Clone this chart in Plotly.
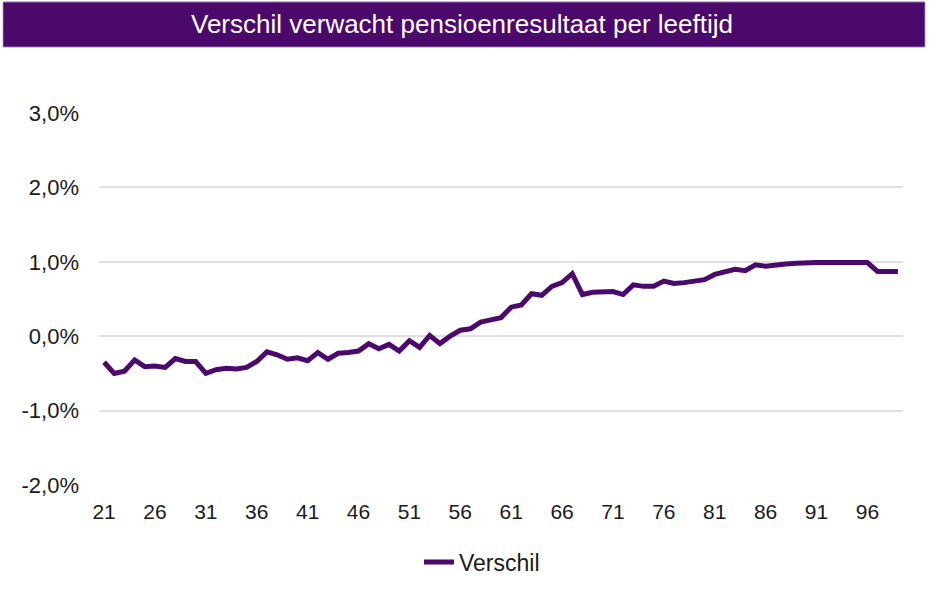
import plotly.graph_objects as go

# leeftijden 21 t/m 99
leeftijden = [str(a) for a in range(21, 100)]

# verschil verwacht pensioenresultaat (in %)
verschil = [
    -0.35, -0.50, -0.47, -0.32, -0.41, -0.40, -0.42, -0.30, -0.34, -0.34,   # 21-30
    -0.50, -0.45, -0.43, -0.44, -0.42, -0.34, -0.21, -0.25, -0.31, -0.29,   # 31-40
    -0.33, -0.22, -0.31, -0.23, -0.22, -0.20, -0.10, -0.17, -0.11, -0.20,   # 41-50
    -0.06, -0.15, 0.01, -0.10, 0.00, 0.08, 0.10, 0.19, 0.22, 0.25,          # 51-60
    0.39, 0.42, 0.57, 0.55, 0.67, 0.72, 0.84, 0.56, 0.59, 0.59,             # 61-70
    0.60, 0.56, 0.69, 0.67, 0.67, 0.74, 0.71, 0.72, 0.74, 0.76,             # 71-80
    0.83, 0.87, 0.90, 0.88, 0.96, 0.94, 0.96, 0.97, 0.98, 0.99,             # 81-90
    0.99, 0.99, 0.99, 0.99, 0.99, 0.99, 0.87, 0.87, 0.87,                   # 91-99
]

x_ticks = leeftijden[::5]
y_ticks = [-2, -1, 0, 1, 2, 3]
y_labels = [f"{v:.1f}%".replace(".", ",") for v in y_ticks]

paars = "#4b0a6b"
lettertype = "Liberation Sans, Arial"

fig = go.Figure()
fig.add_trace(go.Scatter(
    x=leeftijden,
    y=verschil,
    mode="lines",
    name="Verschil",
    line=dict(color=paars, width=5),
))

# paarse titelbalk
fig.add_shape(
    type="rect", xref="paper", yref="paper",
    x0=-0.119, x1=1.027, y0=1.178, y1=1.298,
    fillcolor=paars, line=dict(color="#6a3a86", width=1),
    layer="below",
)
fig.add_annotation(
    text="Verschil verwacht pensioenresultaat per leeftijd",
    xref="paper", yref="paper", x=0.452, y=1.238,
    showarrow=False, xanchor="center", yanchor="middle",
    font=dict(family=lettertype, size=26, color="white"),
)

fig.update_layout(
    width=940, height=599,
    margin=dict(l=99, r=37, t=113, b=114),
    paper_bgcolor="white", plot_bgcolor="white",
    font=dict(family=lettertype, size=21, color="#1a1a1a"),
    showlegend=True,
    legend=dict(
        orientation="h", x=0.398, y=-0.207,
        xanchor="left", yanchor="middle",
        font=dict(size=23),
    ),
)
fig.update_xaxes(
    type="category",
    tickvals=x_ticks, ticktext=x_ticks,
    range=[-0.5, len(leeftijden) - 0.5],
    showgrid=False, showline=False, zeroline=False,
    ticks="", ticklabelstandoff=12,
    tickfont=dict(size=21),
)
fig.update_yaxes(
    range=[-2, 3],
    tickvals=y_ticks, ticktext=y_labels,
    showgrid=True, gridcolor="#e0e0e0", gridwidth=2,
    zeroline=False, showline=False,
    ticks="", ticklabelstandoff=19,
    tickfont=dict(size=22),
)

fig.write_html(
    "out.html",
    config={"displayModeBar": False},
    post_script="document.body.style.margin='0';",
)
